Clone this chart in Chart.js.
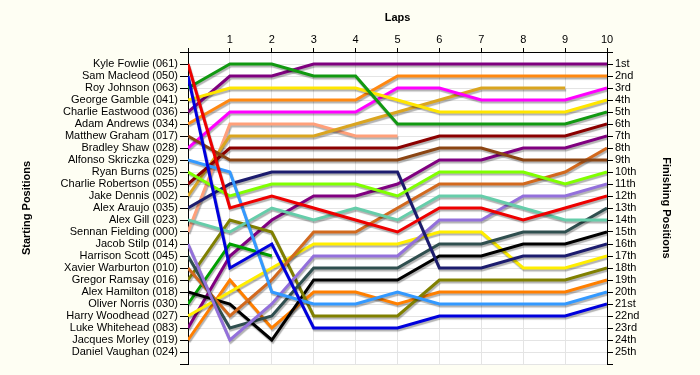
<!DOCTYPE html>
<html>
<head>
<meta charset="utf-8">
<script src="https://cdn.jsdelivr.net/npm/chart.js@4/dist/chart.umd.min.js"></script>
<style>
    html, body { margin: 0; padding: 0; background: #fefef3; }
    #wrap { width: 700px; height: 375px; }
</style>
</head>
<body>
<div id="wrap"><canvas id="lapChart" width="700" height="375"></canvas></div>
<script>
const laps = [0, 1, 2, 3, 4, 5, 6, 7, 8, 9, 10];

const drivers = [
    "Kyle Fowlie (061)", "Sam Macleod (050)", "Roy Johnson (063)", "George Gamble (041)",
    "Charlie Eastwood (036)", "Adam Andrews (034)", "Matthew Graham (017)", "Bradley Shaw (028)",
    "Alfonso Skriczka (029)", "Ryan Burns (025)", "Charlie Robertson (055)", "Jake Dennis (002)",
    "Alex Araujo (035)", "Alex Gill (023)", "Sennan Fielding (000)", "Jacob Stilp (014)",
    "Harrison Scott (045)", "Xavier Warburton (010)", "Gregor Ramsay (016)", "Alex Hamilton (018)",
    "Oliver Norris (030)", "Harry Woodhead (027)", "Luke Whitehead (083)", "Jacques Morley (019)",
    "Daniel Vaughan (024)"
];

const finishLabels = [
    "1st", "2nd", "3rd", "4th", "5th", "6th", "7th", "8th", "9th", "10th",
    "11th", "12th", "13th", "14th", "15th", "16th", "17th", "18th", "19th", "20th",
    "21st", "22nd", "23rd", "24th", "25th"
];

// position of each driver at lap 0..10 (null = retired)
const positions = [
    [1, 13, 12, 13, 14, 15, 13, 13, 14, 13, 12],
    [2, 18, 16, 23, 23, 23, 22, 22, 22, 22, 21],
    [3, 1, 1, 2, 2, 6, 6, 6, 6, 6, 5],
    [4, 3, 3, 3, 3, 4, 5, 5, 5, 5, 4],
    [5, 2, 2, 1, 1, 1, 1, 1, 1, 1, 1],
    [6, 4, 4, 4, 4, 2, 2, 2, 2, 2, 2],
    [7, 9, 9, 9, 9, 9, 8, 8, 9, 9, 9],
    [8, 5, 5, 5, 5, 3, 3, 4, 4, 4, 3],
    [9, 10, 20, 21, 21, 20, 21, 21, 21, 21, 20],
    [10, 12, 11, 11, 11, 12, 10, 10, 10, 11, 10],
    [11, 8, 8, 8, 8, 8, 7, 7, 7, 7, 6],
    [12, 7, 7, 7, 6, 5, 4, 3, 3, 3, null],
    [13, 11, 10, 10, 10, 10, 18, 18, 17, 17, 16],
    [14, 15, 13, 14, 13, 14, 12, 12, 13, 14, 14],
    [15, 6, 6, 6, 7, 7, null, null, null, null, null],
    [16, 24, 21, 17, 17, 17, 14, 14, 12, 12, 11],
    [17, 23, 22, 18, 18, 18, 16, 16, 15, 15, 13],
    [18, 22, 19, 15, 15, 13, 11, 11, 11, 10, 8],
    [19, 14, 15, 22, 22, 22, 19, 19, 19, 19, 18],
    [20, 21, 24, 19, 19, 19, 17, 17, 16, 16, 15],
    [21, 16, 17, null, null, null, null, null, null, null, null],
    [22, 20, 18, 16, 16, 16, 15, 15, 18, 18, 17],
    [23, 17, 14, 12, 12, 11, 9, 9, 8, 8, 7],
    [24, 19, 23, 20, 20, 21, 20, 20, 20, 20, 19],
    [25, null, null, null, null, null, null, null, null, null, null]
];

const lineColors = [
    "#ee0000", "#0000dd", "#119911", "#ffe600", "#7f007f", "#ff8811", "#8b4513",
    "#ff00ff", "#3399ff", "#80ff00", "#8b0000", "#daa520", "#1c1c6e", "#66cdaa",
    "#ffa07a", "#9370db", "#2f4f4f", "#d2691e", "#808000", "#000000", "#00a000",
    "#ffee00", "#800080", "#ff7f00", "#8b4513"
];

const gridGray = "#e4e4e4";
const labelFont = { family: "'Liberation Sans', Arial, sans-serif", size: 11 };
const titleFont = { family: "'Liberation Sans', Arial, sans-serif", size: 11, weight: "bold" };

const plotBackground = {
    id: "plotBackground",
    beforeDraw(chart) {
        const { ctx, chartArea } = chart;
        ctx.save();
        ctx.fillStyle = "#ffffff";
        ctx.fillRect(chartArea.left, chartArea.top, chartArea.right - chartArea.left, chartArea.bottom - chartArea.top);
        ctx.restore();
    }
};

const lineShadow = {
    id: "lineShadow",
    beforeDatasetDraw(chart) {
        const ctx = chart.ctx;
        ctx.save();
        ctx.shadowColor = "rgba(0, 0, 0, 0.3)";
        ctx.shadowBlur = 1;
        ctx.shadowOffsetX = 1;
        ctx.shadowOffsetY = 2;
    },
    afterDatasetDraw(chart) {
        chart.ctx.restore();
    }
};

function buildDatasets() {
    return drivers.map((name, i) => ({
        label: name,
        data: laps.map((lap, j) => ({ x: lap, y: positions[i][j] })),
        borderColor: lineColors[i],
        backgroundColor: lineColors[i],
        borderWidth: 3,
        pointRadius: 0,
        tension: 0,
        spanGaps: false
    }));
}

document.addEventListener("DOMContentLoaded", () => {
    const ctx = document.getElementById("lapChart");

    new Chart(ctx, {
        type: "line",
        data: { datasets: buildDatasets() },
        plugins: [plotBackground, lineShadow],
        options: {
            responsive: false,
            animation: false,
            devicePixelRatio: 1,
            layout: { padding: { top: 0, left: 0, right: 0, bottom: 11 } },
            plugins: {
                legend: { display: false },
                tooltip: { enabled: false }
            },
            scales: {
                x: {
                    type: "linear",
                    position: "top",
                    min: 0,
                    max: 10,
                    afterFit: s => { s.height = 52; },
                    ticks: {
                        stepSize: 1,
                        color: "#000",
                        font: labelFont,
                        padding: 1,
                        maxRotation: 0,
                        callback: v => (v === 0 ? "" : v)
                    },
                    grid: { color: gridGray, tickColor: "#000", tickLength: 4 },
                    border: { color: "#000", width: 1 },
                    title: { display: true, text: "Laps", font: titleFont, color: "#000", padding: { top: 11, bottom: 0 } }
                },
                y: {
                    type: "linear",
                    position: "left",
                    min: 0,
                    max: 26,
                    reverse: true,
                    afterFit: s => { s.width = 188; },
                    ticks: {
                        stepSize: 1,
                        autoSkip: false,
                        color: "#000",
                        font: labelFont,
                        padding: 2,
                        callback: v => drivers[v - 1] || ""
                    },
                    grid: { color: gridGray, tickColor: "#000", tickLength: 8 },
                    border: { color: "#000", width: 1 },
                    title: { display: true, text: "Starting Positions", font: titleFont, color: "#000", padding: { top: 20, bottom: 0 } }
                },
                y2: {
                    type: "linear",
                    position: "right",
                    min: 0,
                    max: 26,
                    reverse: true,
                    afterFit: s => { s.width = 93; },
                    ticks: {
                        stepSize: 1,
                        autoSkip: false,
                        color: "#000",
                        font: labelFont,
                        padding: 2,
                        callback: v => finishLabels[v - 1] || ""
                    },
                    grid: { drawOnChartArea: false, tickColor: "#000", tickLength: 6 },
                    border: { color: "#000", width: 1 },
                    title: { display: true, text: "Finishing Positions", font: titleFont, color: "#000", padding: { top: 27, bottom: 0 } }
                }
            }
        }
    });
});
</script>
</body>
</html>
